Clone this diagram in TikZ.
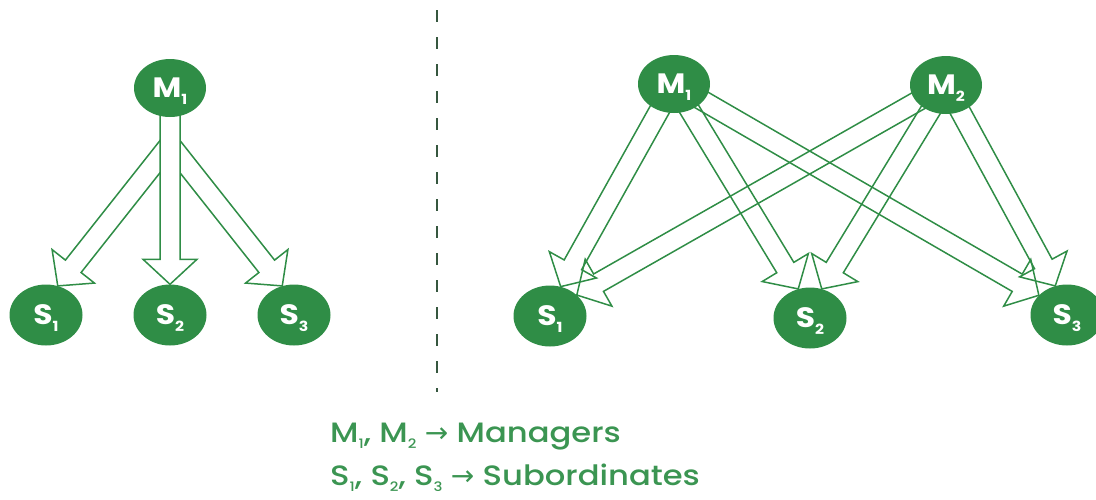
\documentclass[tikz,border=0pt]{standalone}
\usepackage{fontspec}
\setmainfont{Poppins}
\newfontfamily\labelfont{Poppins}[FakeStretch=1.12]
\newfontfamily\legendfont{Poppins Medium}[FakeStretch=1.15]
\newfontfamily\symfont{DejaVu Sans}
\usetikzlibrary{calc,shapes.geometric}
\pgfdeclarelayer{background}
\pgfsetlayers{background,main}

\definecolor{gfg}{HTML}{2F8D46}
\definecolor{legendgreen}{HTML}{3B9552}
\definecolor{divider}{HTML}{36573F}

% label of a circle: bold letter with a lowered index
\newcommand{\circlelabel}[2]{{\labelfont\fontsize{28}{28}\selectfont\bfseries #1}\raisebox{-7pt}[0pt][0pt]{\labelfont\fontsize{14}{14}\selectfont\bfseries #2}}
% letter with a lowered index in the legend
\newcommand{\legidx}[2]{#1\raisebox{-6pt}[0pt][0pt]{\fontsize{13}{13}\selectfont #2}}

% hollow block arrow from #2 to the tip #3
\newcommand{\blockarrow}[3][]{%
  \coordinate (ah) at ($(#3)!25pt!(#2)$);
  \draw[arrowline,#1] ($(#2)!10pt!90:(#3)$) -- ($(ah)!10pt!90:(#3)$)
    -- ($(ah)!27pt!90:(#3)$) -- (#3) -- ($(ah)!27pt!-90:(#3)$)
    -- ($(ah)!10pt!-90:(#3)$) -- ($(#2)!10pt!-90:(#3)$);
}
% the same arrow, closed and filled white
\newcommand{\blockarrowfilled}[3][]{%
  \coordinate (ah) at ($(#3)!25pt!(#2)$);
  \draw[arrowline,fill=white,#1] ($(#2)!10pt!90:(#3)$) -- ($(ah)!10pt!90:(#3)$)
    -- ($(ah)!27pt!90:(#3)$) -- (#3) -- ($(ah)!27pt!-90:(#3)$)
    -- ($(ah)!10pt!-90:(#3)$) -- ($(#2)!10pt!-90:(#3)$) -- cycle;
}

\begin{document}
\begin{tikzpicture}[x=1pt,y=-1pt,
  mnode/.style={ellipse, fill=gfg, minimum width=72pt, minimum height=58pt, inner sep=0pt, text=white},
  snode/.style={ellipse, fill=gfg, minimum width=73pt, minimum height=61pt, inner sep=0pt, text=white},
  arrowline/.style={draw=gfg, line width=1.5pt, line join=miter},
  dividerline/.style={draw=divider, line width=2pt, dash pattern=on 12pt off 15pt},
  legend/.style={anchor=base west, text=legendgreen, inner sep=0pt,
    font=\legendfont\fontsize{28}{28}\selectfont}]

\useasboundingbox (0,0) rectangle (1096,499);

% ---- one manager, three subordinates
\node[mnode] (lM1) at (170,88) {\circlelabel{M}{1}};
\node[snode] (lS1) at (46,315) {\circlelabel{S}{1}};
\node[snode] (lS2) at (170,315) {\circlelabel{S}{2}};
\node[snode] (lS3) at (294,315) {\circlelabel{S}{3}};
\coordinate (lfork) at ($(lM1.center)+(0,56)$);

% ---- divider
\coordinate (divtop) at (437,10);
\coordinate (divbot) at (437,392);
\draw[dividerline] (divtop) -- (divbot);

% ---- two managers, three subordinates
\node[mnode] (rM1) at (674,84) {\circlelabel{M}{1}};
\node[mnode] (rM2) at (946,85) {\circlelabel{M}{2}};
\node[snode] (rS1) at (550,316) {\circlelabel{S}{1}};
\node[snode] (rS2) at (810,318) {\circlelabel{S}{2}};
\node[snode] (rS3) at (1067,315) {\circlelabel{S}{3}};

\begin{pgfonlayer}{background}
  \blockarrowfilled{lfork}{lS1.68}
  \blockarrowfilled{lfork}{lS3.112}
  \blockarrowfilled{lM1}{lS2.north}

  \blockarrow{rM1}{rS1.70}
  \blockarrow{rM1}{rS2.112}
  \blockarrow{rM1}{rS3.145}
  \blockarrow{rM2}{rS1.38}
  \blockarrow{rM2}{rS2.68}
  \blockarrow{rM2}{rS3.112}
\end{pgfonlayer}

% ---- legend
\node[legend] (leg1) at (330,442) {\legidx{M}{1}, \legidx{M}{2} {\symfont →} Managers};
\node[legend] (leg2) at (330,485) {\legidx{S}{1}, \legidx{S}{2}, \legidx{S}{3} {\symfont →} Subordinates};
\end{tikzpicture}
\end{document}
